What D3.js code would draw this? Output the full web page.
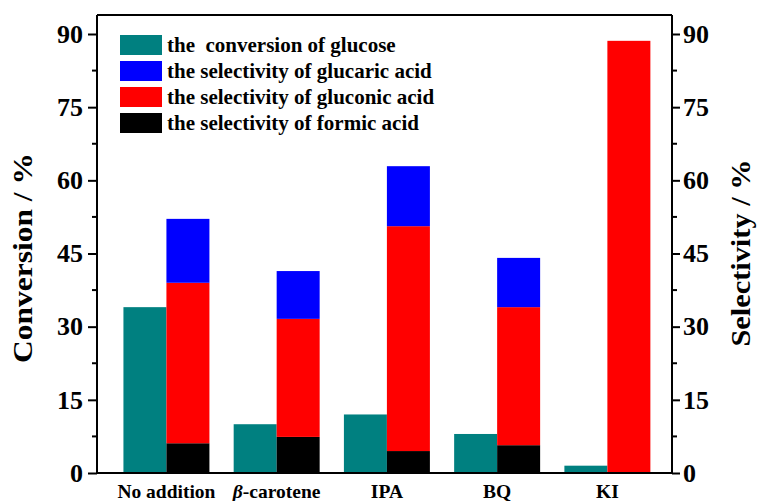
<!DOCTYPE html>
<html><head><meta charset="utf-8">
<script src="https://cdn.jsdelivr.net/npm/d3@7/dist/d3.min.js"></script>
<style>
html,body{margin:0;padding:0;background:#fff;}
svg{display:block;font-family:"Liberation Serif","Times New Roman",serif;font-weight:bold;}
</style></head>
<body><svg id="c" width="760" height="501"></svg>
<script>
const categories = ["No addition","β-carotene","IPA","BQ","KI"];
const conversion = [34.0, 10.0, 12.0, 8.0, 1.5];
const formic = [6.1, 7.4, 4.5, 5.7, 0];
const gluconic = [32.9, 24.2, 46.1, 28.3, 88.6];
const glucaric = [13.1, 9.8, 12.3, 10.1, 0];
const tickValues = [0, 15, 30, 45, 60, 75, 90];
const minorTicks = [7.5, 22.5, 37.5, 52.5, 67.5, 82.5];
const legendLabels = ["the  conversion of glucose","the selectivity of glucaric acid","the selectivity of gluconic acid","the selectivity of formic acid"];
const colors = {conv:"#008080", glucaric:"#0000ff", gluconic:"#ff0000", formic:"#000000"};

const svg = d3.select("#c");
const L = 97, R = 672, T = 15, B = 473;

const x = d3.scaleBand().domain(categories).range([L, R]).paddingInner(0.22).paddingOuter(0.218).align(0.55);
const yL = d3.scaleLinear().domain([0, 90]).range([B, 34]);
const yR = d3.scaleLinear().domain([0, 90]).range([B, 34]);
const half = x.bandwidth() / 2;

// conversion bars
svg.append("g").selectAll("rect").data(categories).join("rect")
  .attr("x", d => x(d)).attr("width", half)
  .attr("y", (d,i) => yL(conversion[i])).attr("height", (d,i) => yL(0) - yL(conversion[i]))
  .attr("fill", colors.conv);

// stacked selectivity
const rows = categories.map((c,i) => ({cat:c, formic:formic[i], gluconic:gluconic[i], glucaric:glucaric[i]}));
const stack = d3.stack().keys(["formic","gluconic","glucaric"])(rows);
svg.append("g").selectAll("g").data(stack).join("g")
  .attr("fill", s => colors[s.key])
  .selectAll("rect").data(s => s).join("rect")
  .attr("x", d => x(d.data.cat) + half).attr("width", half)
  .attr("y", d => yR(d[1])).attr("height", d => yR(d[0]) - yR(d[1]));

// frame
svg.append("line").attr("x1", L).attr("x2", R).attr("y1", T).attr("y2", T).attr("stroke","#000").attr("stroke-width",2);
svg.append("line").attr("x1", L-1).attr("x2", R+1).attr("y1", B).attr("y2", B).attr("stroke","#000").attr("stroke-width",2);

// left axis
const axL = svg.append("g").attr("transform", `translate(${L},0)`)
  .call(d3.axisLeft(yL).tickValues(tickValues).tickSize(9).tickPadding(5).tickSizeOuter(0));
axL.select(".domain").attr("d", `M0,${T}V${B}`).attr("stroke-width", 2);
axL.selectAll(".tick line").attr("stroke-width", 2);
axL.selectAll(".tick text").attr("font-size", 26).attr("font-family", "Liberation Serif").attr("font-weight","bold").attr("fill","#000");
axL.append("g").selectAll("line").data(minorTicks).join("line")
  .attr("x1", -5).attr("x2", 0).attr("y1", d => yL(d)).attr("y2", d => yL(d)).attr("stroke","#000").attr("stroke-width",2);

// right axis
const axR = svg.append("g").attr("transform", `translate(${R},0)`)
  .call(d3.axisRight(yR).tickValues(tickValues).tickSize(8).tickPadding(3).tickSizeOuter(0));
axR.select(".domain").attr("d", `M0,${T}V${B}`).attr("stroke-width", 2);
axR.selectAll(".tick line").attr("stroke-width", 2);
axR.selectAll(".tick text").attr("font-size", 26).attr("font-family", "Liberation Serif").attr("font-weight","bold").attr("fill","#000");
axR.append("g").selectAll("line").data(minorTicks).join("line")
  .attr("x1", 0).attr("x2", 5).attr("y1", d => yR(d)).attr("y2", d => yR(d)).attr("stroke","#000").attr("stroke-width",2);

// x labels
const xl = svg.append("g").selectAll("text").data(categories).join("text")
  .attr("x", d => x(d) + half).attr("y", 498).attr("text-anchor","middle").attr("font-size", 19.5).attr("fill","#000");
xl.each(function(d){
  const t = d3.select(this);
  if (d.startsWith("β")) {
    t.append("tspan").attr("font-style","italic").text("β");
    t.append("tspan").text(d.slice(1));
  } else t.text(d);
});

// axis titles
svg.append("text").attr("transform","translate(32,258) rotate(-90)").attr("text-anchor","middle")
  .attr("font-size", 27).attr("fill","#000").attr("textLength", 210).attr("lengthAdjust","spacingAndGlyphs").text("Conversion / %");
svg.append("text").attr("transform","translate(750,253) rotate(-90)").attr("text-anchor","middle")
  .attr("font-size", 27).attr("fill","#000").attr("textLength", 187).attr("lengthAdjust","spacingAndGlyphs").text("Selectivity / %");

// legend
const legKeys = ["conv","glucaric","gluconic","formic"];
const lg = svg.append("g").selectAll("g").data(legKeys).join("g")
  .attr("transform", (d,i) => `translate(120,${35 + i*26})`);
lg.append("rect").attr("width", 42).attr("height", 20).attr("fill", d => colors[d]);
lg.append("text").attr("x", 47).attr("y", 17).attr("font-size", 21).attr("fill","#000")
  .attr("xml:space","preserve").style("white-space","pre").text((d,i) => legendLabels[i]);
</script></body></html>
